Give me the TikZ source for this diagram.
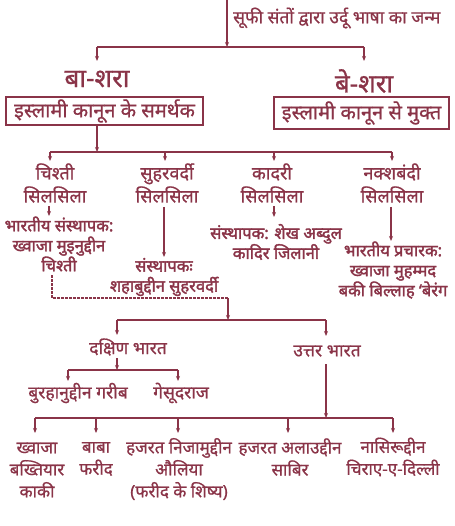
\documentclass[tikz,border=0pt]{standalone}
\usepackage{fontspec}
\newfontfamily\hindi[Script=Devanagari, FakeBold=0.8]{Noto Sans}
\newfontfamily\hindiB[Script=Devanagari, FakeBold=2]{Noto Sans}
\usetikzlibrary{arrows.meta}
\definecolor{mar}{HTML}{8A3448}
\begin{document}
\begin{tikzpicture}[x=1pt,y=-1pt,
  every node/.style={text=mar, inner sep=0pt, align=center},
  conn/.style={draw=mar, line width=1.1pt},
  arr/.style={conn, -{Stealth[length=5pt,width=4pt]}},
  dashlink/.style={conn, dash pattern=on 2.5pt off 1.5pt},
  ftop/.style={font=\hindi\fontsize{17.5}{20}\selectfont},
  fbig/.style={font=\hindi\fontsize{26}{28}\selectfont},
  fbox/.style={font=\hindi\fontsize{20}{22}\selectfont},
  fsil/.style={font=\hindi\fontsize{18}{23}\selectfont},
  ffnd/.style={font=\hindiB\fontsize{16.5}{20}\selectfont},
  fname/.style={font=\hindi\fontsize{17.5}{22}\selectfont},
  fbot/.style={font=\hindi\fontsize{17}{22}\selectfont},
  boxed/.style={draw=mar, line width=1.1pt, rectangle}
]
\useasboundingbox (0,0) rectangle (454,526);

% ---------- top ----------
\coordinate (t0) at (227,0);
\coordinate (j0) at (227,47);
\coordinate (jL) at (97,47);
\coordinate (jR) at (364,47);
\node[ftop, anchor=west] (top) at (233,18) {सूफी संतों द्वारा उर्दू भाषा का जन्म};
\draw[arr] (t0) -- (j0);
\draw[conn] (jL) -- (jR);

\node[fbig] (basha) at (97,79) {बा-शरा};
\node[fbig] (besha) at (364,81) {बे-शरा};
\coordinate (aL) at (97,61);
\coordinate (aR) at (364,61);
\draw[arr] (jL) -- (aL);
\draw[arr] (jR) -- (aR);

\node[fbox, boxed, minimum width=197pt, minimum height=28pt] (box1) at (104.5,111) {इस्लामी कानून के समर्थक};
\node[fbox, boxed, minimum width=175pt, minimum height=32pt] (box2) at (361.5,113) {इस्लामी कानून से मुक्त};

% ---------- silsilas ----------
\coordinate (k0) at (97,152);
\coordinate (c1) at (50,152);
\coordinate (c2) at (165,152);
\coordinate (c3) at (274,152);
\coordinate (c4) at (392,152);
\draw[arr] (k0 |- box1.south) -- (k0);
\draw[conn] (c1) -- (c4);

\node[fsil] (chishti) at (55,183) {चिश्ती\\सिलसिला};
\node[fsil] (suhr) at (167,183) {सुहरवर्दी\\सिलसिला};
\node[fsil] (qadri) at (272,183) {कादरी\\सिलसिला};
\node[fsil] (naqsh) at (392,183) {नक्शबंदी\\सिलसिला};
\coordinate (e1) at (50,161);
\coordinate (e2) at (165,161);
\coordinate (e3) at (274,161);
\coordinate (e4) at (392,161);
\draw[arr] (c1) -- (e1);
\draw[arr] (c2) -- (e2);
\draw[arr] (c3) -- (e3);
\draw[arr] (c4) -- (e4);

\node[ffnd] (f1) at (59,244) {भारतीय संस्थापक:\\ख्वाजा मुइनुद्दीन\\चिश्ती};
\node[ffnd] (f2) at (164,277) {संस्थापकः\\शहाबुद्दीन सुहरवर्दी};
\node[ffnd] (f3) at (276,242) {संस्थापक: शेख अब्दुल\\कादिर जिलानी};
\node[ffnd] (f4) at (393,270) {भारतीय प्रचारक:\\ख्वाजा मुहम्मद\\बकी बिल्लाह ‘बेरंग};
\coordinate (g1s) at (49,206);  \coordinate (g1e) at (49,216);
\coordinate (g2s) at (164,207); \coordinate (g2e) at (164,257);
\coordinate (g3s) at (274,206); \coordinate (g3e) at (274,217);
\coordinate (g4s) at (391,207); \coordinate (g4e) at (391,241);
\draw[arr] (g1s) -- (g1e);
\draw[arr] (g2s) -- (g2e);
\draw[arr] (g3s) -- (g3e);
\draw[arr] (g4s) -- (g4e);

% ---------- dashed link ----------
\coordinate (d0) at (52,275);
\coordinate (d1) at (52,298);
\coordinate (d2) at (228,298);
\coordinate (h0) at (228,320);
\coordinate (s1) at (117,320);
\coordinate (s2) at (326,320);
\draw[dashlink] (d0) -- (d1) -- (d2);
\draw[arr] (d2) -- (h0);
\draw[conn] (s1) -- (s2);

\node[fname] (dakshin) at (128,347) {दक्षिण भारत};
\node[fname] (uttar) at (327,351) {उत्तर भारत};
\coordinate (v1) at (117,335);
\coordinate (v2) at (326,336);
\draw[arr] (s1) -- (v1);
\draw[arr] (s2) -- (v2);

% ---------- south ----------
\coordinate (r00) at (117,358);
\coordinate (r0) at (117,370);
\coordinate (r1) at (68,370);
\coordinate (r2) at (178,370);
\draw[arr] (r00) -- (r0);
\draw[conn] (r1) -- (r2);
\node[fname] (burhan) at (78,393) {बुरहानुद्दीन गरीब};
\node[fname] (gesu) at (181,393) {गेसूदराज};
\coordinate (w1) at (68,381);
\coordinate (w2) at (178,381);
\draw[arr] (r1) -- (w1);
\draw[arr] (r2) -- (w2);

% ---------- north ----------
\coordinate (u00) at (326,364);
\coordinate (u0) at (326,418);
\coordinate (u1) at (35,418);
\coordinate (u2) at (96,418);
\coordinate (u3) at (178,418);
\coordinate (u4) at (288,418);
\coordinate (u5) at (393,418);
\draw[arr] (u00) -- (u0);
\draw[conn] (u1) -- (u5);
\node[fbot] (n1) at (37,470) {ख्वाजा\\बख्तियार\\काकी};
\node[fbot] (n2) at (96,459) {बाबा\\फरीद};
\node[fbot] (n3) at (179,469) {हजरत निजामुद्दीन\\औलिया\\(फरीद के शिष्य)};
\node[fbot] (n4) at (290,457) {हजरत अलाउद्दीन\\साबिर};
\node[fbot] (n5) at (393,457) {नासिरूद्दीन\\चिराए-ए-दिल्ली};
\coordinate (x1) at (35,433);
\coordinate (x2) at (96,433);
\coordinate (x3) at (178,433);
\coordinate (x4) at (288,433);
\coordinate (x5) at (393,433);
\draw[arr] (u1) -- (x1);
\draw[arr] (u2) -- (x2);
\draw[arr] (u3) -- (x3);
\draw[arr] (u4) -- (x4);
\draw[arr] (u5) -- (x5);
\end{tikzpicture}
\end{document}
